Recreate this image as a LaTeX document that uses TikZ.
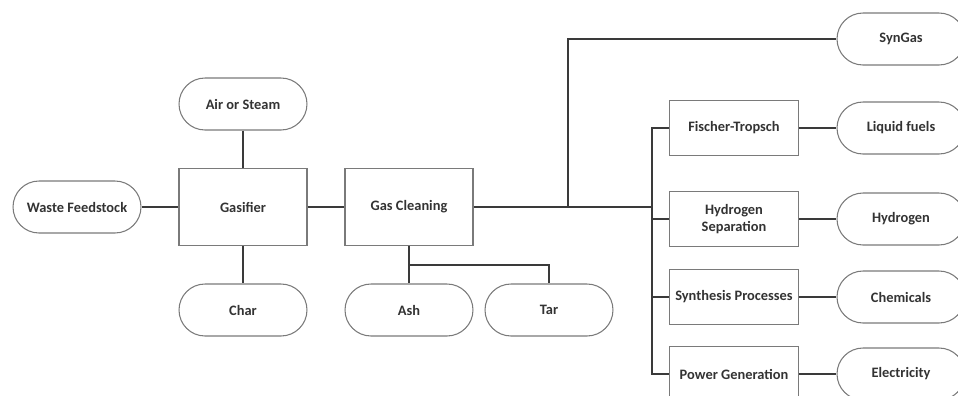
\documentclass[tikz,border=0pt]{standalone}
\usepackage{fontspec}
\setmainfont{Carlito}
\usepackage{tikz}
\definecolor{linegray}{HTML}{3A3A3A}
\definecolor{edgegray}{HTML}{7A7A7A}

\begin{document}
\begin{tikzpicture}[
    x=0.02cm, y=-0.02cm,
    terminal/.style={draw=edgegray, line width=0.6pt, rectangle, rounded corners=0.52cm,
                     minimum width=2.56cm, minimum height=1.04cm,
                     align=center, font=\fontsize{8.2}{9.5}\selectfont\bfseries, text=black!80},
    unit/.style={draw=edgegray, line width=0.6pt, rectangle,
                 minimum width=2.56cm, minimum height=1.54cm,
                 align=center, font=\fontsize{8.2}{9.5}\selectfont\bfseries, text=black!80},
    proc/.style={unit, minimum width=2.58cm, minimum height=1.1cm},
    link/.style={draw=linegray, line width=1.1pt}
  ]
    \clip (0,0) rectangle (958,396);
    % feed side
    \node[terminal] (waste) at (77, 207) {Waste Feedstock};
    \node[unit] (gasifier) at (243, 207) {Gasifier};
    \node[terminal] (air) at (243, 104) {Air or Steam};
    \node[terminal] (char) at (243, 310) {Char};
    \node[unit] (clean) at (409, 207) {Gas Cleaning};
    \node[terminal] (ash) at (409, 310) {Ash};
    \node[terminal] (tar) at (549, 310) {Tar};
    \draw[link] (waste) -- (gasifier);
    \draw[link] (air) -- (gasifier);
    \draw[link] (gasifier) -- (char);
    \draw[link] (gasifier) -- (clean);
    \coordinate (split) at (409, 265);
    \draw[link] (clean) -- (ash);
    \draw[link] (split) -| (tar.north);
    % products
    \coordinate (tap) at (568, 207);
    \coordinate (bus) at (652, 207);
    \node[terminal] (syngas) at (901, 39) {SynGas};
    \node[proc] (ft) at (734, 128) {Fischer-Tropsch};
    \node[proc] (hsep) at (734, 219) {Hydrogen\\Separation};
    \node[proc] (synth) at (734, 297) {Synthesis Processes};
    \node[proc] (power) at (734, 374) {Power Generation};
    \node[terminal] (fuels) at (901, 128) {Liquid fuels};
    \node[terminal] (hydrogen) at (901, 219) {Hydrogen};
    \node[terminal] (chem) at (901, 297) {Chemicals};
    \node[terminal] (elec) at (901, 374) {Electricity};
    \draw[link] (clean) -- (bus);
    \draw[link] (tap) |- (syngas);
    \draw[link] (ft) -| (bus) |- (power);
    \draw[link] (hsep.west) -- (hsep.west -| bus);
    \draw[link] (synth.west) -- (synth.west -| bus);
    \draw[link] (ft) -- (fuels);
    \draw[link] (hsep) -- (hydrogen);
    \draw[link] (synth) -- (chem);
    \draw[link] (power) -- (elec);
  \end{tikzpicture}
\end{document}
